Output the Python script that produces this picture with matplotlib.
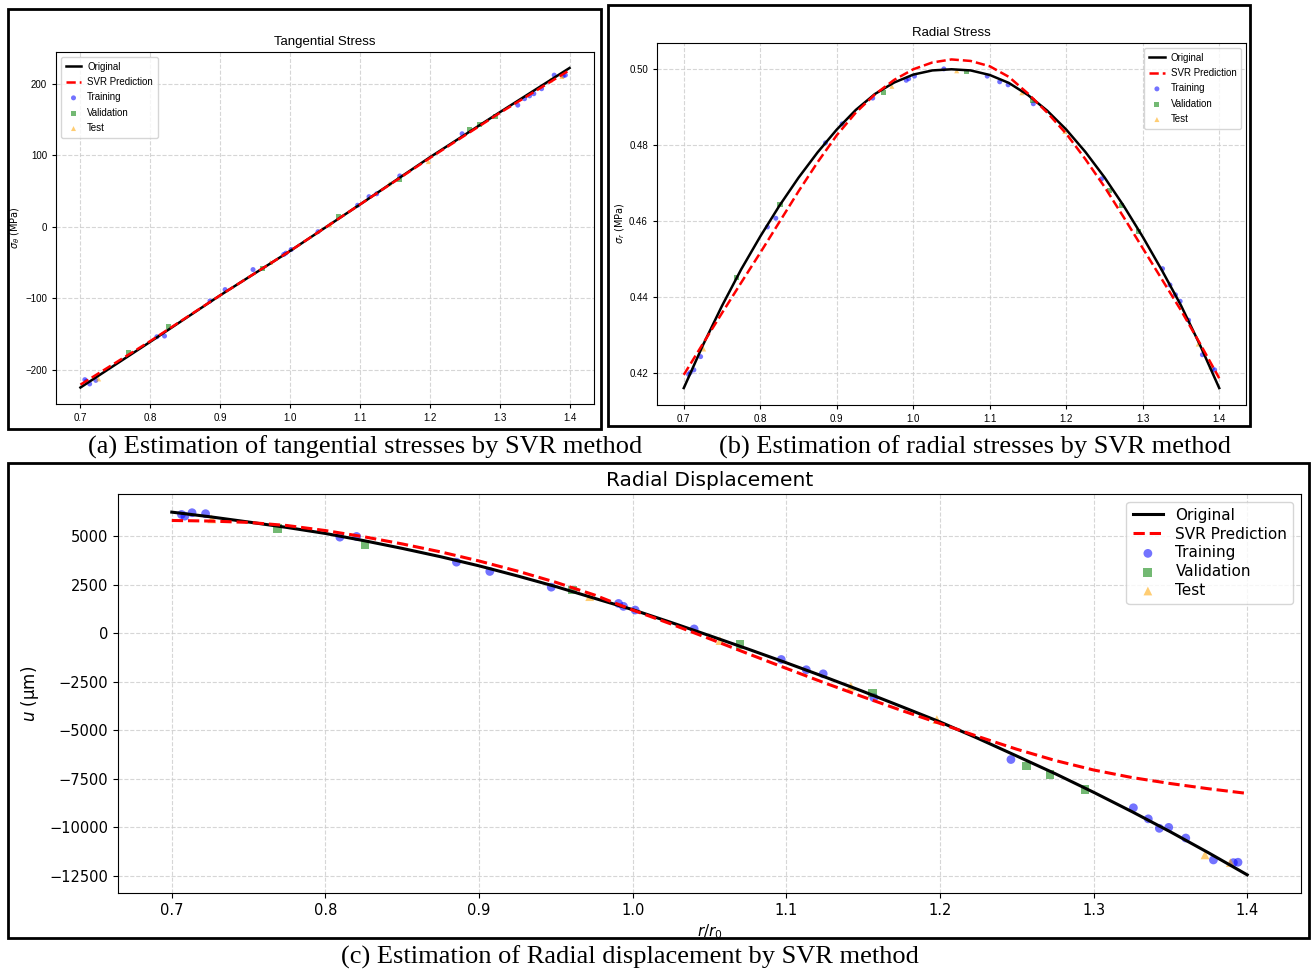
import matplotlib
matplotlib.use("Agg")
import matplotlib.pyplot as plt
from matplotlib.patches import Rectangle
from matplotlib import font_manager

# ---------------- data ----------------
r_curve = [0.700, 0.725, 0.750, 0.775, 0.800, 0.825, 0.850, 0.875, 0.900, 0.925,
           0.950, 0.975, 1.000, 1.025, 1.050, 1.075, 1.100, 1.125, 1.150, 1.175,
           1.200, 1.225, 1.250, 1.275, 1.300, 1.325, 1.350, 1.375, 1.400]
r_curve_a = [0.7, 0.8, 0.9, 1.0, 1.1, 1.2, 1.3, 1.4]

# (a) tangential stress
sig_t_orig = [-225, -161, -96, -34, 31, 97, 160, 222]
sig_t_svr = [-221, -160, -96, -34, 31, 96, 159, 219]

# (b) radial stress
sig_r_orig = [0.4159, 0.4272, 0.4376, 0.4472, 0.4559, 0.4640, 0.4714, 0.4781, 0.4841,
              0.4893, 0.4935, 0.4965, 0.4986, 0.4997, 0.5000, 0.4997, 0.4985, 0.4964,
              0.4932, 0.4891, 0.4841, 0.4782, 0.4715, 0.4640, 0.4558, 0.4470, 0.4377,
              0.4272, 0.4159]
sig_r_svr = [0.4194, 0.4276, 0.4357, 0.4437, 0.4516, 0.4597, 0.4678, 0.4755, 0.4826,
             0.4886, 0.4934, 0.4972, 0.5000, 0.5018, 0.5026, 0.5022, 0.5008, 0.4980,
             0.4936, 0.4886, 0.4830, 0.4763, 0.4690, 0.4610, 0.4528, 0.4446, 0.4364,
             0.4276, 0.4185]

# (c) radial displacement
u_orig = [6250, 6010, 5740, 5460, 5150, 4780, 4380, 3950, 3480, 2960,
          2410, 1810, 1220, 560, -120, -810, -1520, -2250, -3000, -3780,
          -4570, -5430, -6330, -7240, -8200, -9200, -10240, -11330, -12460]
u_svr = [5820, 5790, 5720, 5560, 5300, 4980, 4610, 4200, 3730, 3210,
         2630, 1980, 1200, 480, -280, -1050, -1810, -2560, -3280, -3980,
         -4650, -5330, -5980, -6560, -7050, -7440, -7750, -8020, -8260]

# sample positions
r_train = [0.7063, 0.7085, 0.7132, 0.722, 0.8094, 0.8203, 0.8853, 0.907, 0.947,
           0.9908, 0.994, 1.0016, 1.04, 1.0967, 1.113, 1.124, 1.157, 1.2462,
           1.3259, 1.3356, 1.3428, 1.3489, 1.36, 1.378, 1.391, 1.394]
r_val = [0.769, 0.8258, 0.9608, 1.0698, 1.156, 1.2564, 1.2716, 1.2944]
r_test = [0.726, 0.972, 1.0568, 1.142, 1.198, 1.3725, 1.389]

train_a = [-214, -216, -220, -215, -154, -153, -104, -88, -60, -39, -37, -32, -7,
           30, 42, 46, 71, 130, 170, 179, 183, 186, 193, 212, 211, 212]
val_a = [-176, -140, -58, 14, 66, 136, 143, 154]
test_a = [-213, -50, 3, 60, 91, 205, 210]

train_b = [0.4195, 0.4200, 0.4207, 0.4242, 0.4584, 0.4607, 0.4806, 0.4856, 0.4924,
           0.4971, 0.4975, 0.4982, 0.5001, 0.4982, 0.4967, 0.4959, 0.4909, 0.4711,
           0.4474, 0.4431, 0.4405, 0.4388, 0.4338, 0.4247, 0.4210, 0.4207]
val_b = [0.4451, 0.4643, 0.4939, 0.4994, 0.4917, 0.4680, 0.4641, 0.4572]
test_b = [0.4262, 0.4955, 0.4996, 0.4938, 0.4836, 0.4275, 0.4215]

train_c = [6130, 6045, 6220, 6170, 4960, 4995, 3670, 3190, 2380, 1540, 1390, 1200,
           225, -1350, -1880, -2090, -3320, -6510, -9000, -9570, -10060, -10010,
           -10560, -11690, -11830, -11810]
val_c = [5390, 4580, 2230, -580, -3080, -6840, -7280, -8040]
test_c = [5900, 1890, -375, -2740, -4450, -11430, -11830]

x_ticks = [0.7, 0.8, 0.9, 1.0, 1.1, 1.2, 1.3, 1.4]
yt_a = [-200, -100, 0, 100, 200]
yt_b = [0.42, 0.44, 0.46, 0.48, 0.50]
yt_c = [-12500, -10000, -7500, -5000, -2500, 0, 2500, 5000]

captions = ["(a) Estimation of tangential stresses by SVR method",
            "(b) Estimation of radial stresses by SVR method",
            "(c) Estimation of Radial displacement by SVR method"]

# ---------------- fonts ----------------
names = {f.name for f in font_manager.fontManager.ttflist}
narrow = 'Liberation Sans Narrow' if 'Liberation Sans Narrow' in names else 'Liberation Sans'
serif = 'Liberation Serif' if 'Liberation Serif' in names else 'DejaVu Serif'

W, H = 1314, 974
fig = plt.figure(figsize=(W / 100, H / 100), dpi=100)


def ax_rect(l, t, r, b):
    return [l / W, 1 - b / H, (r - l) / W, (b - t) / H]


def box(l, t, r, b):
    fig.add_artist(Rectangle((l / W, 1 - b / H), (r - l) / W, (b - t) / H,
                             transform=fig.transFigure, fill=False,
                             edgecolor='black', linewidth=2))


def draw(ax, rc, yo, ys, ya, yv, yt, lw, ms):
    ax.plot(rc, yo, color='black', lw=lw, label='Original', zorder=3)
    ax.plot(rc, ys, color='red', lw=lw, ls='--', label='SVR Prediction', zorder=4)
    ax.scatter(r_train, ya, color='blue', alpha=0.55, s=ms, marker='o',
               edgecolors='none', label='Training', zorder=2)
    ax.scatter(r_val, yv, color='green', alpha=0.55, s=ms, marker='s',
               edgecolors='none', label='Validation', zorder=2)
    ax.scatter(r_test, yt, color='orange', alpha=0.55, s=ms, marker='^',
               edgecolors='none', label='Test', zorder=2)
    ax.grid(True, ls='--', color='#cccccc', lw=0.8, alpha=0.8)
    ax.set_xticks(x_ticks)


small_legend = dict(prop={'family': narrow, 'size': 7}, framealpha=0.8,
                    handlelength=1.6, handletextpad=0.6, labelspacing=0.55,
                    borderpad=0.5)

# ---- (a)
box(8, 9, 601, 429)
axa = fig.add_axes(ax_rect(56, 52, 594, 403.5))
draw(axa, r_curve_a, sig_t_orig, sig_t_svr, train_a, val_a, test_a, 1.8, 13)
axa.set_yticks(yt_a)
axa.set_title('Tangential Stress', fontsize=9.5, family=narrow, pad=5)
axa.set_ylabel(r'$\sigma_\theta$ (MPa)', fontsize=7)
axa.yaxis.set_label_coords(-0.063, 0.5)
axa.tick_params(labelsize=7, length=3)
for lab in axa.get_xticklabels() + axa.get_yticklabels():
    lab.set_family(narrow)
axa.legend(loc='upper left', **small_legend)
fig.text(365 / W, 1 - 447 / H, captions[0], ha='center', va='center',
         family=serif, fontsize=19)

# ---- (b)
box(608, 5, 1250, 426)
axb = fig.add_axes(ax_rect(657, 43, 1246, 404.5))
draw(axb, r_curve, sig_r_orig, sig_r_svr, train_b, val_b, test_b, 1.8, 13)
axb.set_yticks(yt_b)
axb.set_yticklabels(['%.2f' % v for v in yt_b])
axb.set_title('Radial Stress', fontsize=9.5, family=narrow, pad=5)
axb.set_ylabel(r'$\sigma_r$ (MPa)', fontsize=7)
axb.yaxis.set_label_coords(-0.051, 0.5)
axb.tick_params(labelsize=7, length=3)
for lab in axb.get_xticklabels() + axb.get_yticklabels():
    lab.set_family(narrow)
axb.legend(loc='upper right', **small_legend)
fig.text(975 / W, 1 - 447 / H, captions[1], ha='center', va='center',
         family=serif, fontsize=19)

# ---- (c)
box(8, 463, 1309, 938)
axc = fig.add_axes(ax_rect(118, 494, 1301, 893))
draw(axc, r_curve, u_orig, u_svr, train_c, val_c, test_c, 2.2, 40)
axc.set_yticks(yt_c)
axc.set_title('Radial Displacement', fontsize=14.5, pad=6)
axc.set_ylabel(r'$u$ (μm)', fontsize=12, labelpad=6)
axc.set_xlabel(r'$r/r_0$', fontsize=11, labelpad=3)
axc.tick_params(labelsize=10.5)
axc.legend(loc='upper right', fontsize=11, framealpha=0.8, labelspacing=0.25,
           borderpad=0.4)
fig.text(630 / W, 1 - 957 / H, captions[2], ha='center', va='center',
         family=serif, fontsize=19)

fig.savefig('out.png', dpi=100)
